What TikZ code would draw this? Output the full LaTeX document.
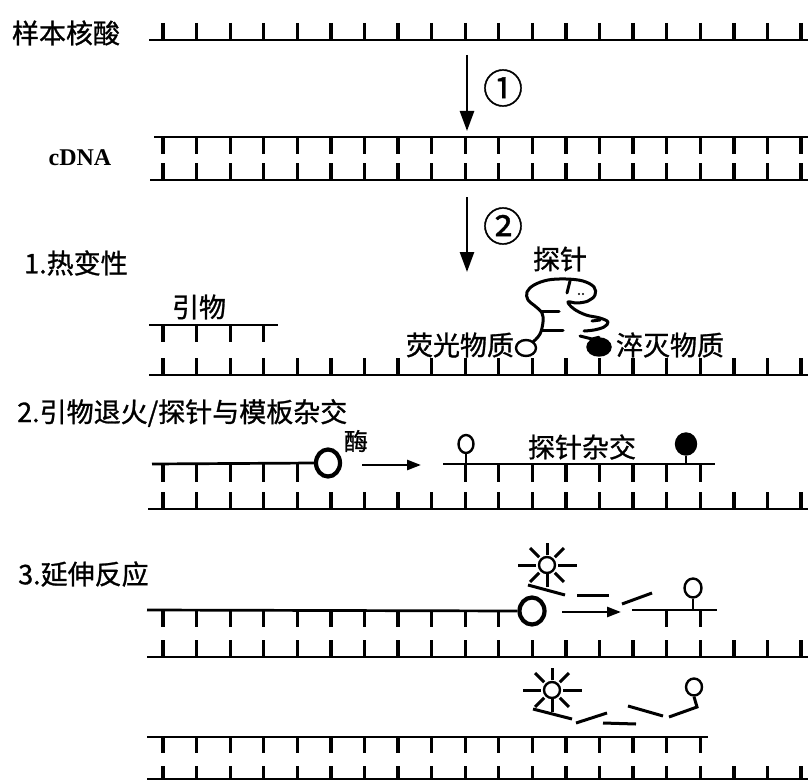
\documentclass[tikz,border=0pt]{standalone}
\usepackage{fontspec}
\setmainfont{Liberation Serif}
\newfontfamily\cjk[FakeBold=1]{Noto Sans CJK SC}
\usetikzlibrary{arrows.meta,shapes.geometric}
% base-pair ticks at the common spacing: first index, last index, top y, bottom y
\newcommand\basepairs[4]{\foreach \k in {#1,...,#2} \draw[base] ({163+33.58*\k},#3) -- ({163+33.58*\k},#4);}
\begin{document}
\begin{tikzpicture}[x=1pt,y=-1pt,
  strand/.style={line width=2.7pt},
  base/.style={line width=3.3pt},
  label/.style={font=\cjk\fontsize{27}{30}\selectfont, inner sep=0pt},
  smalllabel/.style={font=\cjk\fontsize{24}{28}\selectfont, inner sep=0pt},
  serifname/.style={font=\rmfamily\bfseries\fontsize{24pt}{28pt}\selectfont, inner sep=0pt},
  stepnum/.style={font=\cjk\fontsize{40}{44}\selectfont, inner sep=0pt},
  flow/.style={line width=2.6pt,-{Triangle[length=20pt,width=14pt]}},
  move/.style={line width=2.6pt,-{Triangle[length=14pt,width=10pt]}},
  enzyme/.style={line width=4.2pt},
  dye/.style={line width=2.4pt, fill=white},
  quench/.style={line width=2.4pt, fill=black},
  frag/.style={line width=3pt},
  probe/.style={line width=3pt, line cap=round, line join=round},
  sun/.pic={
    \draw[line width=2.4pt] (0,0) circle[radius=8pt];
    \draw[frag] (180:11) -- (180:29);
    \draw[frag] (0:11) -- (0:30);
    \draw[frag] (270:10) -- (270:22);
    \foreach \a in {225,315,135,45} \draw[frag] (\a:11) -- (\a:24);
    \draw[frag] (90:8) -- (90:22);
  }
]
\useasboundingbox (0,0) rectangle (808,781);

% ---------- sample nucleic acid ----------
\node[label] (sample) at (66,33) {样本核酸};
\draw[strand] (149,40) -- (808,40);
\basepairs{0}{19}{23}{40}

\coordinate (s1a) at (467,55);
\coordinate (s1b) at (467,131);
\draw[flow] (s1a) -- (s1b);
\node[stepnum] (n1) at (503,88) {①};

% ---------- cDNA ----------
\node[serifname] (cdna) at (80,158) {cDNA};
\draw[strand] (154,137) -- (808,137);
\basepairs{0}{19}{137}{154}
\basepairs{0}{19}{163}{180}
\draw[strand] (150,180) -- (808,180);

\coordinate (s2a) at (467,197);
\coordinate (s2b) at (467,272);
\draw[flow] (s2a) -- (s2b);
\node[stepnum] (n2) at (503,226) {②};

% ---------- 1. denaturation ----------
\node[label] (step1) at (76,263) {1.热变性};
\node[label] (probelbl) at (560,259) {探针};
\node[label] (primerlbl) at (199,307) {引物};
\draw[strand] (149,325) -- (278,325);
\basepairs{0}{3}{325}{342}
\basepairs{0}{19}{358}{375}
\draw[strand] (149,375) -- (808,375);

\node[label] (fluolbl) at (460,345) {荧光物质};
\node[label] (quenlbl) at (670,345) {淬灭物质};
\node[dye, draw, ellipse, minimum width=20pt, minimum height=16pt, inner sep=0pt] (f1) at (526,348) {};
\node[quench, draw, ellipse, minimum width=23pt, minimum height=17pt, inner sep=0pt] (q1) at (599,347) {};

% free probe folded on itself
\draw[probe] plot[smooth, tension=0.6] coordinates {
  (533,342) (540,334) (543,322) (542,313) (535,306) (528,300) (527,292)
  (534,285) (548,280) (566,279) (583,281) (594,287) (595,295) (588,301)
  (577,303) (568,302) (574,309) (586,315) (600,318) (608,322) (604,327)
  (594,330) (584,331)};
\draw[probe] (580,336) -- (592,339) -- (q1.north);
\draw[probe] (570,281) -- (567,293);
\draw[probe] (542,311) -- (559,311);
\draw[probe] (542,330) -- (563,330);
\draw[probe] (592,321) -- (600,320);
\fill (579,294) circle[radius=1.1pt] (583,294) circle[radius=1.1pt];

% ---------- 2. annealing / hybridisation ----------
\node[label, anchor=west] (step2) at (17,413) {2.引物退火/探针与模板杂交};
\node[enzyme, draw, ellipse, minimum width=24pt, minimum height=27pt, inner sep=0pt] (e2) at (328,463) {};
\draw[strand] (152,464) -- (e2.west);
\basepairs{0}{4}{464}{482}
\node[smalllabel] (enz) at (356,441) {酶};
\coordinate (m2a) at (362,465);
\coordinate (m2b) at (421,465);
\draw[move] (m2a) -- (m2b);

\draw[strand] (443,464) -- (715,464);
\basepairs{9}{16}{464}{482}
\node[dye, draw, ellipse, minimum width=15pt, minimum height=18pt, inner sep=0pt] (f2) at (466,444) {};
\draw[line width=2.6pt] (f2.south) -- (466,464);
\node[quench, draw, ellipse, minimum width=20pt, minimum height=21pt, inner sep=0pt] (q2) at (686,444) {};
\draw[line width=2.6pt] (q2.south) -- (686,464);
\node[label] (hyb) at (582,447) {探针杂交};

\basepairs{0}{19}{492}{509}
\draw[strand] (148,509) -- (808,509);

% ---------- 3. extension ----------
\node[label, anchor=west] (step3) at (18,574) {3.延伸反应};
\node[enzyme, draw, ellipse, minimum width=25pt, minimum height=27pt, inner sep=0pt] (e3) at (532,611) {};
\draw[strand] (147,610) -- (e3.west);
\basepairs{0}{10}{610}{627}
\coordinate (m3a) at (562,612);
\coordinate (m3b) at (621,612);
\draw[move] (m3a) -- (m3b);
\draw[frag] (577,595) -- (609,595);
\draw[frag] (622,604) -- (652,593);
\draw[strand] (632,610) -- (717,610);
\basepairs{15}{16}{610}{627}
\node[dye, draw, ellipse, minimum width=17pt, minimum height=19pt, inner sep=0pt] (f3) at (693,588) {};
\draw[line width=2.6pt] (f3.south) -- (693,610);
\pic at (547,565) {sun};
\draw[frag] (528,585) -- (565,595);

\basepairs{0}{19}{640}{657}
\draw[strand] (147,657) -- (808,657);

% cleaved probe after extension
\pic at (552,690) {sun};
\draw[frag] (533,709) -- (572,719);
\draw[frag] (576,723) -- (607,713);
\draw[frag] (603,723) -- (636,724);
\draw[frag] (628,706) -- (663,716);
\node[dye, draw, ellipse, minimum width=16pt, minimum height=17pt, inner sep=0pt] (f4) at (694,687) {};
\draw[frag] (669,717) -- (697,707) -- (f4.south);

\draw[strand] (147,737) -- (708,737);
\basepairs{0}{16}{737}{753}
\basepairs{0}{19}{766}{780}
\draw[strand] (147,779) -- (808,779);
\end{tikzpicture}
\end{document}
